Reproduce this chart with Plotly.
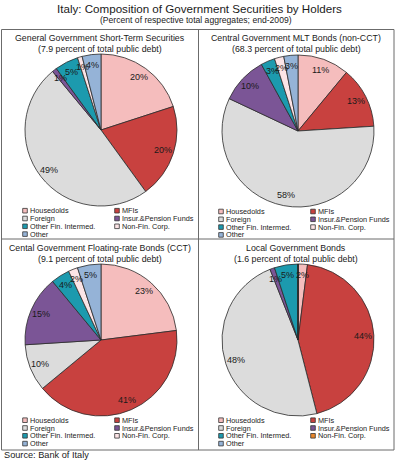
import math
import plotly.graph_objects as go

W, H = 398, 461

categories = ["Housedolds", "MFIs", "Foreign", "Insur.&Pension Funds",
              "Other Fin. Intermed.", "Non-Fin. Corp.", "Other"]

short_term = [20, 20, 49, 1, 5, 1, 4]
mlt_bonds = [11, 13, 58, 10, 3, 2, 3]
cct_bonds = [23, 41, 10, 15, 4, 2, 5]
local_bonds = [2, 44, 48, 1, 5, 0, 0]

panel_titles = [
    ["General Government Short-Term Securities", "(7.9 percent of total public debt)"],
    ["Central Government MLT Bonds (non-CCT)", "(68.3 percent of total public debt)"],
    ["Cental Government Floating-rate Bonds (CCT)", "(9.1 percent of total public debt)"],
    ["Local Government Bonds", "(1.6 percent of total public debt)"],
]
series = [short_term, mlt_bonds, cct_bonds, local_bonds]

colors = ["#F5BDBD", "#C8413F", "#DCDCDC", "#7B5596", "#1C9AAE", "#FCE4E6", "#95B3D7"]
legend_colors_local = ["#F5BDBD", "#C8413F", "#DCDCDC", "#7B5596", "#1C9AAE", "#E8862A", "#95B3D7"]

FONT = "Liberation Sans, Arial, sans-serif"
TXT = "#1a1a1a"

def px(x):
    return x / W

def py(y):
    return 1 - y / H

# layout geometry (pixels)
panel_left = [2, 198, 2, 198]
centers = [(101, 130), (298, 131), (101, 340), (298, 340)]
R = 76
title_y = [(37.5, 48.5), (37.5, 48.5), (247.5, 258.5), (247.5, 258.5)]
legend_row0 = [210.7, 211.5, 420.2, 420.2]
row_gap = 7.8

fig = go.Figure()
annotations = []
shapes = []

for i, vals in enumerate(series):
    cx, cy = centers[i]
    fig.add_trace(go.Pie(
        labels=categories, values=vals, sort=False, direction="clockwise",
        rotation=0, textinfo="none", showlegend=False,
        marker=dict(colors=colors, line=dict(color="#2b2b2b", width=0.8)),
        domain=dict(x=[px(cx - R), px(cx + R)], y=[py(cy + R), py(cy - R)]),
    ))
    # percent labels
    total = sum(vals)
    cum = 0
    for v in vals:
        if v > 0:
            mid = (cum + v / 2) / total * 2 * math.pi
            r = 0.86 * R
            annotations.append(dict(
                x=px(cx + r * math.sin(mid)), y=py(cy - r * math.cos(mid)),
                xref="paper", yref="paper", text=f"{v}%", showarrow=False,
                font=dict(family=FONT, size=9, color=TXT),
                xanchor="center", yanchor="middle", borderpad=0))
        cum += v
    # panel titles
    pcx = panel_left[i] + 98
    for j, t in enumerate(panel_titles[i]):
        annotations.append(dict(
            x=px(pcx), y=py(title_y[i][j]), xref="paper", yref="paper",
            text=t, showarrow=False, font=dict(family=FONT, size=8.8, color=TXT),
            xanchor="center", yanchor="middle", borderpad=0))
    # legend
    lc = legend_colors_local if i == 3 else colors
    for k, cat in enumerate(categories):
        col = k % 2
        row = k // 2
        mx = panel_left[i] + 23 + col * 92
        my = legend_row0[i] + row * row_gap
        shapes.append(dict(type="rect", xref="paper", yref="paper",
                           x0=px(mx - 2.3), x1=px(mx + 2.3),
                           y0=py(my + 2.3), y1=py(my - 2.3),
                           fillcolor=lc[k], line=dict(color="#333333", width=0.8)))
        annotations.append(dict(
            x=px(mx + 3.5), y=py(my), xref="paper", yref="paper", text=cat,
            showarrow=False, font=dict(family=FONT, size=7.3, color="#222222"),
            xanchor="left", yanchor="middle", borderpad=0))

# main titles
annotations.append(dict(x=px(199), y=py(9), xref="paper", yref="paper",
                        text="Italy: Composition of Government Securities by Holders",
                        showarrow=False, font=dict(family=FONT, size=11.6, color=TXT),
                        xanchor="center", yanchor="middle", borderpad=0))
annotations.append(dict(x=px(196), y=py(20), xref="paper", yref="paper",
                        text="(Percent of respective total aggregates; end-2009)",
                        showarrow=False, font=dict(family=FONT, size=8.6, color=TXT),
                        xanchor="center", yanchor="middle", borderpad=0))
annotations.append(dict(x=px(3), y=py(455), xref="paper", yref="paper",
                        text="Source: Bank of Italy",
                        showarrow=False, font=dict(family=FONT, size=9.2, color=TXT),
                        xanchor="left", yanchor="middle", borderpad=0))

# panel frame
line = dict(color="#6b6b6b", width=1)
shapes += [
    dict(type="rect", xref="paper", yref="paper", x0=px(1.5), x1=px(394),
         y0=py(450), y1=py(29.5), line=line),
    dict(type="line", xref="paper", yref="paper", x0=px(198.5), x1=px(198.5),
         y0=py(450), y1=py(29.5), line=line),
    dict(type="line", xref="paper", yref="paper", x0=px(1.5), x1=px(394),
         y0=py(239), y1=py(239), line=line),
]

fig.update_layout(
    width=W, height=H, margin=dict(l=0, r=0, t=0, b=0),
    paper_bgcolor="white", plot_bgcolor="white",
    annotations=annotations, shapes=shapes, showlegend=False,
)

fig.write_html(
    "out.html",
    config={"displayModeBar": False},
    post_script="document.body.style.margin='0';document.body.style.padding='0';"
                "document.body.style.overflow='hidden';",
)
